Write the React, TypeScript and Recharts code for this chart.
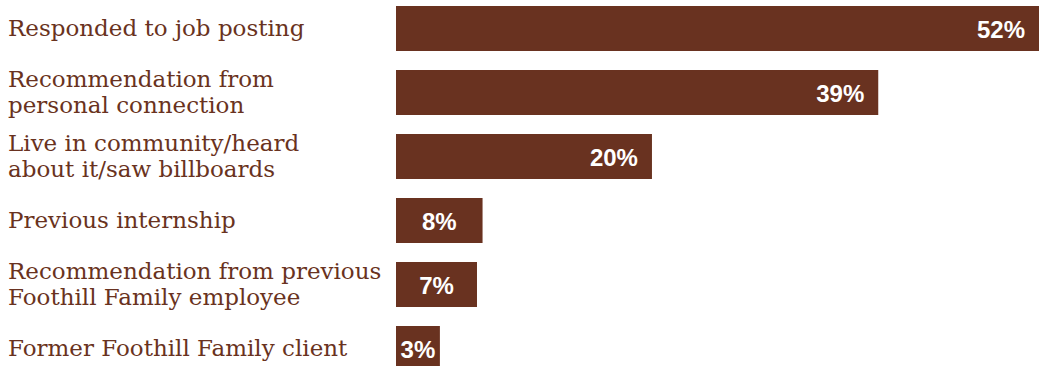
import { BarChart, Bar, XAxis, YAxis, LabelList } from "recharts";

const categories = [
  ["Responded to job posting"],
  ["Recommendation from", "personal connection"],
  ["Live in community/heard", "about it/saw billboards"],
  ["Previous internship"],
  ["Recommendation from previous", "Foothill Family employee"],
  ["Former Foothill Family client"],
];

// bar lengths as drawn (share of respondents, %)
const shares = [52, 39, 20.7, 7.0, 6.55, 3.55];
const labels = ["52%", "39%", "20%", "8%", "7%", "3%"];

const BROWN = "#693220";

const data = categories.map((lines, i) => ({ name: lines.join(" "), value: shares[i], idx: i }));

const CategoryTick = (props: any) => {
  const { y, payload } = props;
  const lines = categories[payload.index] || [payload.value];
  const lineH = 26;
  const first = y - ((lines.length - 1) * lineH) / 2;
  return (
    <text x={8} y={first} fill={BROWN} fontSize={23} fontFamily="'DejaVu Serif', serif" textAnchor="start" dominantBaseline="central">
      {lines.map((l: string, i: number) => (
        <tspan key={i} x={8} y={first + i * lineH} dominantBaseline="central">
          {l}
        </tspan>
      ))}
    </text>
  );
};

const ValueLabel = (props: any) => {
  const { x, y, width, height, index } = props;
  const wide = width > 150;
  const tx = wide ? x + width - 14 : x + width / 2;
  return (
    <text
      x={tx}
      y={y + height / 2 + 1}
      fill="#fff"
      fontSize={24}
      fontWeight={700}
      fontFamily="'Liberation Sans', Arial, sans-serif"
      textAnchor={wide ? "end" : "middle"}
      dominantBaseline="central"
    >
      {labels[index]}
    </text>
  );
};

export default function App() {
  return (
    <div style={{ position: "fixed", left: 0, top: -4, background: "#fff" }}>
      <BarChart width={1039} height={384} data={data} layout="vertical" margin={{ top: 0, right: 0, bottom: 0, left: 0 }}>
        <XAxis type="number" domain={[0, 52]} hide />
        <YAxis type="category" dataKey="name" width={396} axisLine={false} tickLine={false} tick={<CategoryTick />} interval={0} />
        <Bar dataKey="value" fill={BROWN} barSize={45} isAnimationActive={false}>
          <LabelList dataKey="value" content={<ValueLabel />} />
        </Bar>
      </BarChart>
    </div>
  );
}
